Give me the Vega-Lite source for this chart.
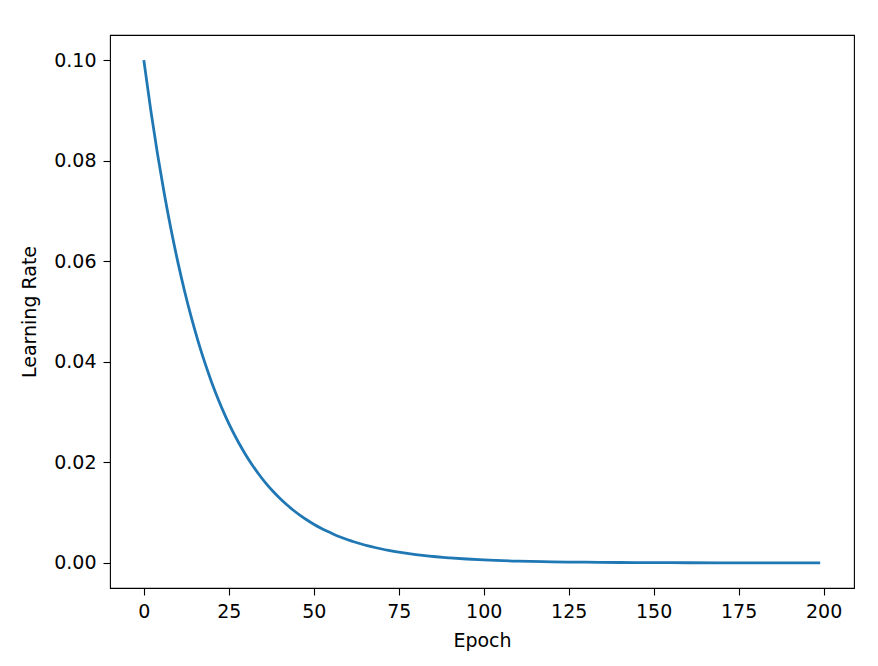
{
  "$schema": "https://vega.github.io/schema/vega-lite/v6.json",
  "autosize": "none",
  "padding": {"left": 110, "top": 35, "right": 24, "bottom": 78},
  "width": 744,
  "height": 553,
  "background": "white",
  "config": {
    "view": {"stroke": "#000000", "strokeWidth": 1.1},
    "font": "DejaVu Sans",
    "axis": {
      "grid": false,
      "domain": false,
      "tickColor": "#000000",
      "tickWidth": 1.1,
      "tickSize": 7,
      "labelPadding": 7,
      "labelFont": "DejaVu Sans",
      "labelFontSize": 19,
      "labelColor": "#000000",
      "titleFont": "DejaVu Sans",
      "titleFontSize": 19,
      "titleFontWeight": "normal",
      "titleColor": "#000000"
    }
  },
  "data": {
    "values": [
      {"epoch": 0, "lr": 0.1},
      {"epoch": 2, "lr": 0.09025},
      {"epoch": 4, "lr": 0.081450625},
      {"epoch": 6, "lr": 0.0735091891},
      {"epoch": 8, "lr": 0.0663420431},
      {"epoch": 10, "lr": 0.0598736939},
      {"epoch": 12, "lr": 0.0540360087},
      {"epoch": 14, "lr": 0.0487674979},
      {"epoch": 16, "lr": 0.0440126669},
      {"epoch": 18, "lr": 0.0397214319},
      {"epoch": 20, "lr": 0.0358485922},
      {"epoch": 22, "lr": 0.0323533545},
      {"epoch": 24, "lr": 0.0291989024},
      {"epoch": 26, "lr": 0.0263520094},
      {"epoch": 28, "lr": 0.0237826885},
      {"epoch": 30, "lr": 0.0214638764},
      {"epoch": 32, "lr": 0.0193711484},
      {"epoch": 34, "lr": 0.0174824614},
      {"epoch": 36, "lr": 0.0157779214},
      {"epoch": 38, "lr": 0.0142395741},
      {"epoch": 40, "lr": 0.0128512157},
      {"epoch": 42, "lr": 0.0115982222},
      {"epoch": 44, "lr": 0.0104673955},
      {"epoch": 46, "lr": 0.0094468244},
      {"epoch": 48, "lr": 0.008525759},
      {"epoch": 50, "lr": 0.0076944975},
      {"epoch": 52, "lr": 0.006944284},
      {"epoch": 54, "lr": 0.0062672163},
      {"epoch": 56, "lr": 0.0056561627},
      {"epoch": 58, "lr": 0.0051046868},
      {"epoch": 60, "lr": 0.0046069798},
      {"epoch": 62, "lr": 0.0041577993},
      {"epoch": 64, "lr": 0.0037524139},
      {"epoch": 66, "lr": 0.0033865536},
      {"epoch": 68, "lr": 0.0030563646},
      {"epoch": 70, "lr": 0.0027583691},
      {"epoch": 72, "lr": 0.0024894281},
      {"epoch": 74, "lr": 0.0022467089},
      {"epoch": 76, "lr": 0.0020276548},
      {"epoch": 78, "lr": 0.0018299584},
      {"epoch": 80, "lr": 0.0016515374},
      {"epoch": 82, "lr": 0.0014905125},
      {"epoch": 84, "lr": 0.0013451875},
      {"epoch": 86, "lr": 0.0012140317},
      {"epoch": 88, "lr": 0.0010956636},
      {"epoch": 90, "lr": 0.0009888364},
      {"epoch": 95, "lr": 0.0007651454},
      {"epoch": 100, "lr": 0.0005920529},
      {"epoch": 110, "lr": 0.0003544839},
      {"epoch": 120, "lr": 0.0002122426},
      {"epoch": 130, "lr": 0.0001270775},
      {"epoch": 140, "lr": 0.0000760859},
      {"epoch": 150, "lr": 0.0000455555},
      {"epoch": 160, "lr": 0.0000272758},
      {"epoch": 170, "lr": 0.000016331},
      {"epoch": 180, "lr": 0.000009778},
      {"epoch": 190, "lr": 0.0000058544},
      {"epoch": 199, "lr": 0.0000036898}
    ]
  },
  "mark": {"type": "line", "color": "#1f77b4", "strokeWidth": 2.8, "interpolate": "monotone"},
  "encoding": {
    "x": {
      "field": "epoch",
      "type": "quantitative",
      "title": "Epoch",
      "scale": {"domain": [-9.95, 208.95], "nice": false, "zero": false},
      "axis": {"values": [0, 25, 50, 75, 100, 125, 150, 175, 200], "format": "d", "titlePadding": 10}
    },
    "y": {
      "field": "lr",
      "type": "quantitative",
      "title": "Learning Rate",
      "scale": {"domain": [-0.005, 0.105], "nice": false, "zero": false},
      "axis": {"values": [0, 0.02, 0.04, 0.06, 0.08, 0.1], "format": ".2f", "titlePadding": 14}
    }
  }
}
